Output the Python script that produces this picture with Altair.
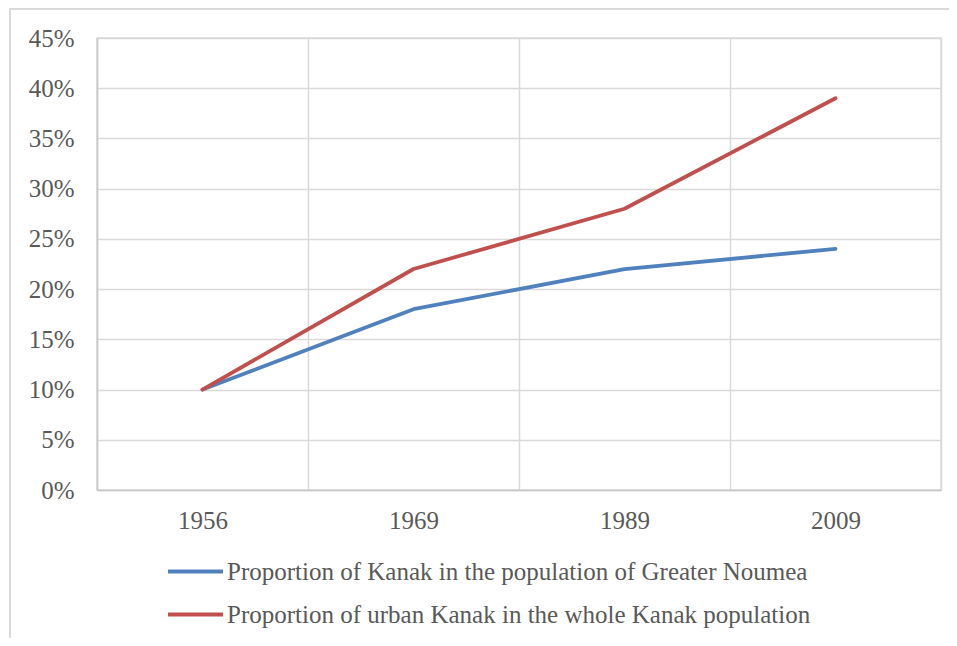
import altair as alt
import pandas as pd

years = ["1956", "1969", "1989", "2009"]
series_names = [
    "Proportion of Kanak in the population of Greater Noumea",
    "Proportion of urban Kanak in the whole Kanak population",
]
noumea_share = [0.10, 0.18, 0.22, 0.24]
urban_share = [0.10, 0.22, 0.28, 0.39]
y_ticks = [0, 0.05, 0.10, 0.15, 0.20, 0.25, 0.30, 0.35, 0.40, 0.45]
colors = ["#4f81bd", "#c0504d"]

rows = []
for name, vals in zip(series_names, [noumea_share, urban_share]):
    for yr, v in zip(years, vals):
        rows.append({"year": yr, "value": v, "series": name})
df = pd.DataFrame(rows)

FONT = "Liberation Serif"
TXT = "#595959"
GRID = "#d9d9d9"

lines = alt.Chart(df).mark_line(strokeWidth=3.8, strokeCap="round", strokeJoin="round").encode(
    x=alt.X(
        "year:O",
        sort=years,
        bandPosition=0.5,
        scale=alt.Scale(type="band", paddingInner=0, paddingOuter=0),
        axis=alt.Axis(
            title=None, grid=True, tickBand="extent", ticks=False, labelAngle=0,
            labelPadding=18, domainColor="#c8c8c8", domainWidth=1.5,
            gridColor=GRID, gridWidth=1.5,
        ),
    ),
    y=alt.Y(
        "value:Q",
        scale=alt.Scale(domain=[0, 0.45], nice=False),
        axis=alt.Axis(
            title=None, format=".0%", values=y_ticks, ticks=False, labelPadding=23,
            domainColor="#c8c8c8", domainWidth=1.5, gridColor=GRID, gridWidth=1.5,
        ),
    ),
    color=alt.Color(
        "series:N",
        sort=series_names,
        scale=alt.Scale(domain=series_names, range=colors),
        legend=alt.Legend(
            title=None, orient="none", legendX=69, legendY=504, direction="vertical",
            symbolType="stroke", symbolSize=3025, symbolStrokeWidth=3.8,
            labelOffset=2, labelLimit=0, rowPadding=0,
        ),
    ),
)

frame_src = pd.DataFrame({"k": [0]})
frame_top = alt.Chart(frame_src).mark_rule(color=GRID, strokeWidth=2).encode(
    x=alt.value(-87), x2=alt.value(880), y=alt.value(-29)
)
frame_left = alt.Chart(frame_src).mark_rule(color=GRID, strokeWidth=2).encode(
    x=alt.value(-87), y=alt.value(-30), y2=alt.value(620)
)

chart = alt.layer(frame_top, frame_left, lines).properties(
    width=844, height=452,
    autosize=alt.AutoSizeParams(type="none"),
    padding={"left": 89, "top": 30, "right": 8, "bottom": 148},
).configure(
    font=FONT,
).configure_axis(
    labelFont=FONT, labelFontSize=25, labelColor=TXT,
).configure_legend(
    labelFont=FONT, labelFontSize=25, labelColor=TXT,
).configure_view(
    stroke=GRID, strokeWidth=1.5,
)

chart.save("out.html", embed_options={"renderer": "svg", "actions": False})
